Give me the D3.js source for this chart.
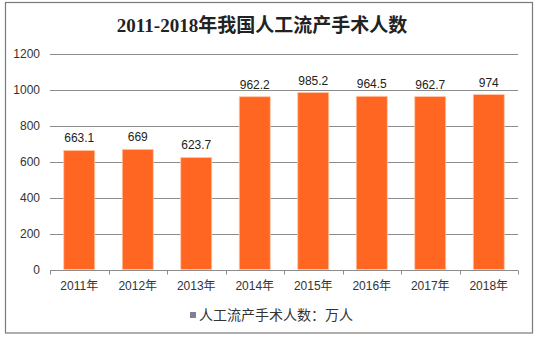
<!DOCTYPE html>
<html>
<head>
<meta charset="utf-8">
<script src="https://cdn.jsdelivr.net/npm/d3@7"></script>
<style>
  html, body { margin: 0; padding: 0; background: #fff; }
  svg { display: block; }
</style>
</head>
<body>
<svg id="chart" width="540" height="339"></svg>
<script>
// Annual induced-abortion procedures in China (unit: 10k people)
const years = ["2011年", "2012年", "2013年", "2014年", "2015年", "2016年", "2017年", "2018年"];
const counts = [663.1, 669, 623.7, 962.2, 985.2, 964.5, 962.7, 974];
const yTicks = [0, 200, 400, 600, 800, 1000, 1200];
const title = "2011-2018年我国人工流产手术人数";
const legendLabel = "人工流产手术人数：万人";

const svg = d3.select("#chart");
const W = 540, H = 339;
const margin = { left: 50, right: 22, top: 54, bottom: 69 };

// outer frame
svg.append("rect")
  .attr("x", 5.5).attr("y", 2.5)
  .attr("width", 527).attr("height", 330.5)
  .attr("fill", "#fff")
  .attr("stroke", "#7a7a7a").attr("stroke-width", 1.2);

const x = d3.scaleBand()
  .domain(years)
  .range([margin.left, W - margin.right])
  .paddingInner(0.47).paddingOuter(0.235);

const y = d3.scaleLinear()
  .domain([0, 1200])
  .range([H - margin.bottom - 0.5, margin.top]);

// horizontal gridlines
svg.append("g")
  .selectAll("line")
  .data(yTicks.filter(d => d > 0))
  .join("line")
  .attr("x1", margin.left).attr("x2", W - margin.right)
  .attr("y1", d => Math.round(y(d)) + 0.5).attr("y2", d => Math.round(y(d)) + 0.5)
  .attr("stroke", "#8c8c8c").attr("stroke-width", 1);

// y axis labels
const yAxis = d3.axisLeft(y).tickValues(yTicks).tickFormat(d3.format("d")).tickSize(0).tickPadding(10);
const gy = svg.append("g")
  .attr("transform", `translate(${margin.left},0)`)
  .call(yAxis);
gy.select(".domain").remove();
gy.selectAll("text")
  .attr("font-family", "'Liberation Sans', Arial, sans-serif")
  .attr("font-size", 12)
  .attr("fill", "#333");

// bars
svg.append("g")
  .selectAll("rect")
  .data(years.map((d, i) => ({ year: d, value: counts[i] })))
  .join("rect")
  .attr("x", d => x(d.year))
  .attr("y", d => y(d.value))
  .attr("width", x.bandwidth())
  .attr("height", d => y(0) - y(d.value))
  .attr("fill", "#FF6622")
  .attr("stroke", "#FFC9A8").attr("stroke-width", 0.8);

// value labels
svg.append("g")
  .selectAll("text")
  .data(years.map((d, i) => ({ year: d, value: counts[i] })))
  .join("text")
  .attr("x", d => x(d.year) + x.bandwidth() / 2)
  .attr("y", d => y(d.value) - 8)
  .attr("text-anchor", "middle")
  .attr("font-family", "'Liberation Sans', Arial, sans-serif")
  .attr("font-size", 12)
  .attr("fill", "#222")
  .text(d => d.value);

// x axis
const xAxis = d3.axisBottom(x).tickSize(0).tickPadding(11);
const gx = svg.append("g")
  .attr("transform", `translate(0,${Math.round(y(0)) + 0.5})`)
  .call(xAxis);
gx.select(".domain")
  .attr("d", `M${margin.left},0H${W - margin.right}`)
  .attr("stroke", "#8c8c8c");
gx.selectAll("text")
  .attr("font-family", "'Liberation Sans', 'Noto Sans CJK SC', sans-serif")
  .attr("font-size", 12)
  .attr("fill", "#333");
// boundary ticks between categories
const [r0, r1] = x.range();
gx.append("g")
  .selectAll("line")
  .data(d3.range(years.length + 1))
  .join("line")
  .attr("x1", i => Math.round(r0 + i * (r1 - r0) / years.length) + 0.5)
  .attr("x2", i => Math.round(r0 + i * (r1 - r0) / years.length) + 0.5)
  .attr("y1", 0).attr("y2", 4)
  .attr("stroke", "#8c8c8c");

// title
svg.append("text")
  .attr("x", 262).attr("y", 32)
  .attr("text-anchor", "middle")
  .attr("font-family", "'Liberation Serif', 'Noto Sans CJK SC', serif")
  .attr("font-weight", "bold")
  .attr("font-size", 19)
  .attr("fill", "#222")
  .text(title);

// legend
const lg = svg.append("g").attr("transform", "translate(190,315)");
lg.append("rect")
  .attr("x", 0).attr("y", -3).attr("width", 6).attr("height", 6)
  .attr("fill", "#7f7f95");
lg.append("text")
  .attr("x", 9).attr("y", 5)
  .attr("font-family", "'Noto Sans CJK SC', sans-serif")
  .attr("font-size", 14)
  .attr("fill", "#333")
  .text(legendLabel);
</script>
</body>
</html>
